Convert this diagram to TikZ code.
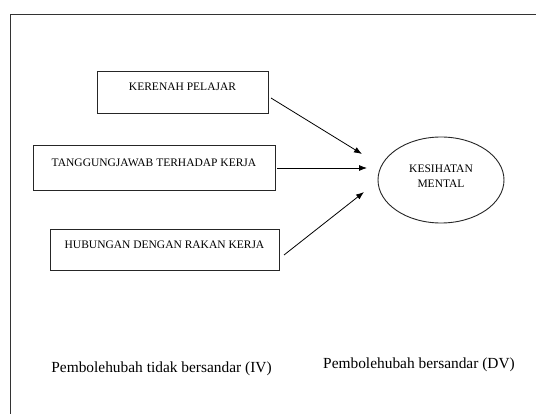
\documentclass[tikz,border=0pt]{standalone}
\usepackage{fontspec}
\setmainfont{Liberation Serif}
\usetikzlibrary{arrows.meta,shapes.geometric}
\begin{document}
\begin{tikzpicture}[x=1pt,y=-1pt,
  varbox/.style={draw=black!85,line width=0.9pt,rectangle,inner sep=0pt,
    font=\fontsize{11.5}{13}\selectfont,text height=7.7pt,text depth=10.3pt},
  dvell/.style={draw=black!85,line width=0.9pt,ellipse,inner sep=0pt},
  dvtext/.style={font=\fontsize{11.5}{14.5}\selectfont,align=center,inner sep=0pt},
  conn/.style={line width=0.8pt,-{Latex[length=8pt,width=6pt]}},
  caption/.style={font=\fontsize{15.4}{17}\selectfont,inner sep=0pt}]
\useasboundingbox (0,0) rectangle (536,414);
\fill[white] (0,0) rectangle (536,414);
\draw[black!80,line width=0.9pt] (10,414) -- (10,14) -- (536,14);
\node[varbox,minimum width=171pt,minimum height=42pt] (k) at (182.5,92) {KERENAH PELAJAR};
\node[varbox,minimum width=242pt,minimum height=45pt] (t) at (154,167.5) {TANGGUNGJAWAB TERHADAP KERJA};
\node[varbox,minimum width=229pt,minimum height=41pt] (h) at (164.5,249.5) {HUBUNGAN DENGAN RAKAN KERJA};
\node[dvell,minimum width=126pt,minimum height=86pt] (m) at (441,180) {};
\node[dvtext] (mt) at (441,176) {KESIHATAN\\MENTAL};
\coordinate (k1) at (271,98);
\coordinate (k2) at (362,154);
\coordinate (t1) at (277,168);
\coordinate (t2) at (367,168);
\coordinate (h1) at (284,255);
\coordinate (h2) at (364,192);
\draw[conn] (k1) -- (k2);
\draw[conn] (t1) -- (t2);
\draw[conn] (h1) -- (h2);
\node[caption] (iv) at (161.5,369) {Pembolehubah tidak bersandar (IV)};
\node[caption] (dv) at (419,365) {Pembolehubah bersandar (DV)};
\end{tikzpicture}
\end{document}
